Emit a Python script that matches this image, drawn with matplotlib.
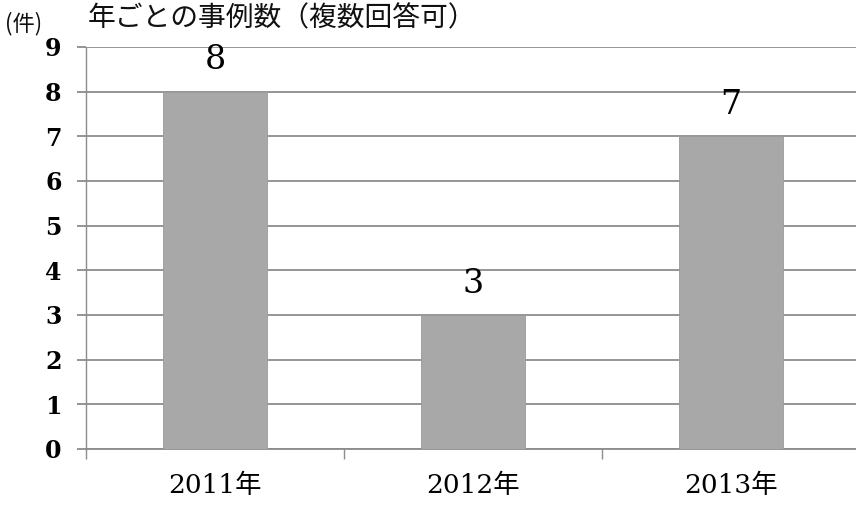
import matplotlib.pyplot as plt
import numpy as np

years = ["2011年", "2012年", "2013年"]
counts = [8, 3, 7]
y_ticks = list(range(0, 10))
title = "年ごとの事例数（複数回答可）"
unit_label = "(件)"

SERIF = ["DejaVu Serif", "Noto Sans CJK JP"]
GRID = "#8c8c8c"

fig = plt.figure(figsize=(8.56, 5.05), dpi=100)
ax = fig.add_axes([86 / 856, 56 / 505, 774 / 856, 402 / 505])

x = np.arange(len(years))
ax.bar(x, counts, width=0.4, color="#a8a8a8", edgecolor="#9a9a9a", linewidth=0.6, zorder=3)

for xi, c in zip(x, counts):
    ax.annotate(str(c), (xi, c), xytext=(0, 11), textcoords="offset points",
                ha="center", va="bottom", fontsize=24, family=SERIF, color="black")

ax.set_xlim(-0.5, 2.5)
ax.set_ylim(0, 9)
ax.set_yticks(y_ticks)
ax.set_yticklabels([str(t) for t in y_ticks], family=SERIF, fontsize=17, fontweight="bold")
ax.yaxis.grid(True, color=GRID, linewidth=1.3, zorder=0)
ax.tick_params(axis="y", length=6.5, width=1.3, color=GRID, pad=11)

# boundary ticks as major, labels on minor ticks at bar centers
ax.set_xticks([-0.5, 0.5, 1.5, 2.5])
ax.set_xticklabels([])
ax.set_xticks(x, minor=True)
ax.set_xticklabels(years, minor=True, family=SERIF, fontsize=19)
ax.tick_params(axis="x", which="major", length=7, width=1.0, color=GRID)
ax.tick_params(axis="x", which="minor", length=0, pad=17)

for side in ["top", "right"]:
    ax.spines[side].set_visible(False)
ax.spines["left"].set_color(GRID)
ax.spines["left"].set_linestyle((0, (1, 1)))
ax.spines["left"].set_linewidth(1.0)
ax.spines["bottom"].set_color(GRID)
ax.spines["bottom"].set_linewidth(1.3)

fig.text(88 / 856, 1 - 3 / 505, title, ha="left", va="top", fontsize=20,
         family=["Noto Sans CJK JP", "DejaVu Sans"], color="#111111")
fig.text(5 / 856, 1 - 24 / 505, unit_label, ha="left", va="center", fontsize=16,
         family=["Noto Sans CJK JP", "DejaVu Sans"], color="#111111")

fig.savefig("out.png", dpi=100)
